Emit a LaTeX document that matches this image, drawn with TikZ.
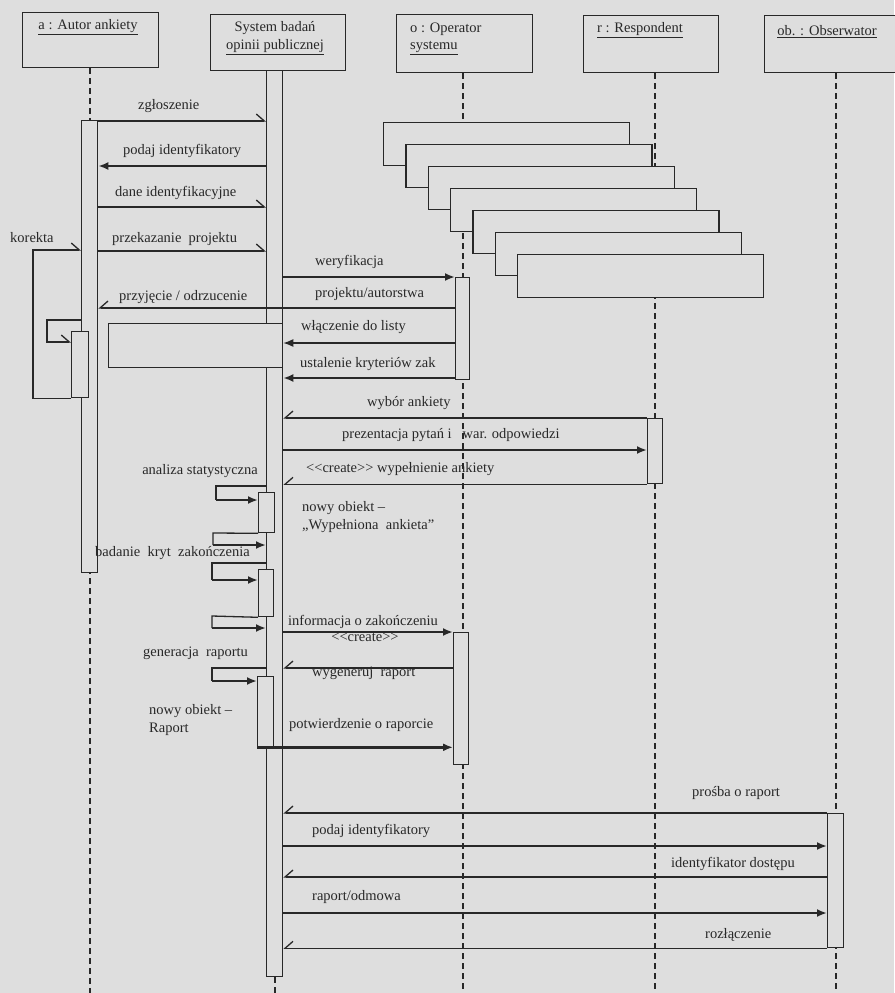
\documentclass[tikz,border=0pt]{standalone}
\usepackage{fontspec}
\setmainfont{Liberation Serif}
\usepackage{tikz}
\usetikzlibrary{arrows.meta,backgrounds}

\definecolor{scanbg}{RGB}{222,222,222}
\definecolor{ink}{RGB}{40,40,40}

\begin{document}
\begin{tikzpicture}[
  x=1pt, y=-1pt,
  every node/.style={font=\fontsize{14.5}{17.5}\selectfont, text=ink, inner sep=0pt},
  head/.style={draw=ink, line width=1.3pt, fill=scanbg, anchor=north west},
  act/.style={draw=ink, line width=1.3pt, fill=scanbg, anchor=north west, minimum width=16pt},
  stackbox/.style={draw=ink, line width=1.3pt, fill=scanbg, anchor=north west, minimum width=246pt, minimum height=43pt},
  life/.style={draw=ink, line width=2pt, dash pattern=on 6pt off 4pt},
  wire/.style={draw=ink, line width=1.3pt},
  sync/.style={draw=ink, line width=2.4pt, -{Latex[length=10pt,width=8pt]}},
  sig/.style={draw=ink, line width=1.3pt, -{Straight Barb[left,length=8pt,width=14pt]}},
  ret/.style={draw=ink, line width=1.3pt, -{Straight Barb[right,length=8pt,width=14pt]}},
  msg/.style={anchor=west}
]
  \useasboundingbox (0,0) rectangle (894,993);

  % object heads
  \node[head, minimum width=136pt, minimum height=55pt] (autHead) at (22,12) {};
  \node[head, minimum width=135pt, minimum height=56pt] (sysHead) at (210,14) {};
  \node[head, minimum width=136pt, minimum height=58pt] (opHead) at (396,14) {};
  \node[head, minimum width=135pt, minimum height=57pt] (respHead) at (583,15) {};
  \node[head, minimum width=140pt, minimum height=57pt] (obsHead) at (764,15) {};
  \node (autName) at (88,27) {\underline{a : Autor ankiety}};
  \node[align=center] (sysName) at (275,38) {System badań\\\underline{opinii publicznej}};
  \node[align=left, anchor=west] (opName) at (410,39) {o : Operator\\\underline{systemu}};
  \node (respName) at (640,30) {\underline{r : Respondent}};
  \node (obsName) at (827,32) {\underline{ob. : Obserwator}};

  \coordinate (bot) at (0,993);

  % activations
  \node[act, minimum height=452pt] (autAct) at (81,120) {};
  \node[act, minimum height=906pt] (sysAct) at (266,70) {};
  \node[act, minimum width=14pt, minimum height=102pt] (opAct1) at (455,277) {};
  \node[act, minimum width=15pt, minimum height=132pt] (opAct2) at (453,632) {};
  \node[act, minimum width=15pt, minimum height=65pt] (respAct) at (647,418) {};
  \node[act, minimum height=134pt] (obsAct) at (827,813) {};
  \node[act, minimum width=17pt, minimum height=66pt] (korAct) at (71,331) {};
  \node[act, minimum height=40pt] (stat1) at (258,492) {};
  \node[act, minimum width=15pt, minimum height=47pt] (stat2) at (258,569) {};
  \node[act, minimum height=70pt] (stat3) at (257,676) {};
  \node[act, minimum width=174pt, minimum height=44pt] (emptyBox) at (108,323) {};

  % cascade of frames
  \foreach \i in {0,...,6}
    \node[stackbox] (st\i) at (383+22.3*\i, 122+22*\i) {};

  % paper and lifelines behind everything
  \begin{scope}[on background layer]
    \fill[scanbg] (0,0) rectangle (894,993);
    \draw[life] (autHead.south -| autAct) -- (autAct |- bot);
    \draw[life] (sysAct.south) -- (sysAct.south |- bot);
    \draw[life] (opHead.south -| opAct1) -- (opAct1 |- bot);
    \draw[life] (respHead.south -| respAct) -- (respAct |- bot);
    \draw[life] (obsHead.south -| obsAct) -- (obsAct |- bot);
  \end{scope}

  % message levels
  \coordinate (zgl) at (0,121);
  \coordinate (pid) at (0,166);
  \coordinate (dane) at (0,207);
  \coordinate (proj) at (0,251);
  \coordinate (przyj) at (0,308);
  \coordinate (wlacz) at (0,343);
  \coordinate (ustal) at (0,378);
  \coordinate (prez) at (0,450);
  \coordinate (wyg) at (0,668);
  \coordinate (pid2) at (0,846);
  \coordinate (ident) at (0,877);
  \coordinate (rap) at (0,913);

  % autor <-> system
  \draw[sig] (autAct.east |- zgl) -- (sysAct.west |- zgl);
  \draw[sync] (sysAct.west |- pid) -- (autAct.east |- pid);
  \draw[sig] (autAct.east |- dane) -- (sysAct.west |- dane);
  \draw[sig] (autAct.east |- proj) -- (sysAct.west |- proj);
  \draw[ret] (opAct1.west |- przyj) -- (autAct.east |- przyj);

  % korekta loops
  \draw[sig] (korAct.south west) -| (33,250) -- (autAct.west |- 0,250);
  \draw[sig] (autAct.west |- 0,320) -| (47,342) -- (korAct.west |- 0,342);

  % system <-> operator
  \draw[sync] (sysAct.east |- opAct1.north) -- (opAct1.north west);
  \draw[sync, line width=1.3pt] (opAct1.west |- wlacz) -- (sysAct.east |- wlacz);
  \draw[sync] (opAct1.west |- ustal) -- (sysAct.east |- ustal);

  % system <-> respondent
  \draw[ret] (respAct.north west) -- (sysAct.east |- respAct.north);
  \draw[sync] (sysAct.east |- prez) -- (respAct.west |- prez);
  \draw[ret] (respAct.south west) -- (sysAct.east |- respAct.south);

  % self calls
  \coordinate (k1) at (216,486);
  \coordinate (k2) at (213,533);
  \coordinate (k3) at (212,563);
  \coordinate (k4) at (212,616);
  \coordinate (k5) at (212,668);
  \draw[wire] (sysAct.west |- k1) -- (k1) -- ++(0,14) coordinate (k1a);
  \draw[sync] (k1a) -- (stat1.west |- k1a);
  \draw[wire] (stat1.south west) -- (k2) -- ++(0,12) coordinate (k2a);
  \draw[sync] (k2a) -- (sysAct.west |- k2a);
  \draw[wire] (sysAct.west |- k3) -- (k3) -- ++(0,17) coordinate (k3a);
  \draw[sync] (k3a) -- (stat2.west |- k3a);
  \draw[wire] (stat2.south west) -- (k4) -- ++(0,12) coordinate (k4a);
  \draw[sync] (k4a) -- (sysAct.west |- k4a);
  \draw[wire] (sysAct.west |- k5) -- (k5) -- ++(0,13) coordinate (k5a);
  \draw[sync] (k5a) -- (stat3.west |- k5a);

  % system <-> operator (raport)
  \draw[sync] (sysAct.east |- opAct2.north) -- (opAct2.north west);
  \draw[ret] (opAct2.west |- wyg) -- (sysAct.east |- wyg);
  \draw[sync] (stat3.south west) -- (opAct2.west |- stat3.south);

  % system <-> obserwator
  \draw[ret] (obsAct.north west) -- (sysAct.east |- obsAct.north);
  \draw[sync] (sysAct.east |- pid2) -- (obsAct.west |- pid2);
  \draw[ret] (obsAct.west |- ident) -- (sysAct.east |- ident);
  \draw[sync] (sysAct.east |- rap) -- (obsAct.west |- rap);
  \draw[ret] (obsAct.south west) -- (sysAct.east |- obsAct.south);

  % message labels
  \node[msg] (lZgl) at (138,106) {zgłoszenie};
  \node[msg] (lPid) at (123,151) {podaj identyfikatory};
  \node[msg] (lDane) at (115,193) {dane identyfikacyjne};
  \node[msg] (lProj) at (112,239) {przekazanie\ \ projektu};
  \node[msg] (lKor) at (10,238) {korekta};
  \node[msg] (lPrzyj) at (119,297) {przyjęcie / odrzucenie};
  \node[msg] (lWer) at (315,262) {weryfikacja};
  \node[msg] (lAut) at (315,294) {projektu/autorstwa};
  \node[msg] (lWlacz) at (301,327) {włączenie do listy};
  \node[msg] (lUstal) at (300,364) {ustalenie kryteriów zak};
  \node[msg] (lWyb) at (367,403) {wybór ankiety};
  \node[msg] (lPrez) at (342,435) {prezentacja pytań i\ \ \ war. odpowiedzi};
  \node[msg] (lWyp) at (306,469) {<{}<create>{}> wypełnienie\ ankiety};
  \node[msg, align=left] (lNowy1) at (302,517) {nowy obiekt –\\„Wypełniona\ \ ankieta”};
  \node[anchor=east] (lStat) at (258,471) {analiza statystyczna};
  \node[msg] (lBad) at (95,553) {badanie\ \ kryt\ \ zakończenia};
  \node[msg] (lInfo) at (288,622) {informacja o zakończeniu};
  \node (lCreate) at (365,637) {<{}<create>{}>};
  \node[msg] (lWyg) at (312,673) {wygeneruj\ \ raport};
  \node[msg] (lGen) at (143,653) {generacja\ \ raportu};
  \node[msg, align=left] (lNowy2) at (149,720) {nowy obiekt –\\Raport};
  \node[msg] (lPotw) at (289,725) {potwierdzenie o raporcie};
  \node[msg] (lPros) at (692,793) {prośba o raport};
  \node[msg] (lPid2) at (312,831) {podaj identyfikatory};
  \node[msg] (lIdent) at (671,864) {identyfikator dostępu};
  \node[msg] (lRap) at (312,897) {raport/odmowa};
  \node[msg] (lRozl) at (705,935) {rozłączenie};
\end{tikzpicture}
\end{document}
